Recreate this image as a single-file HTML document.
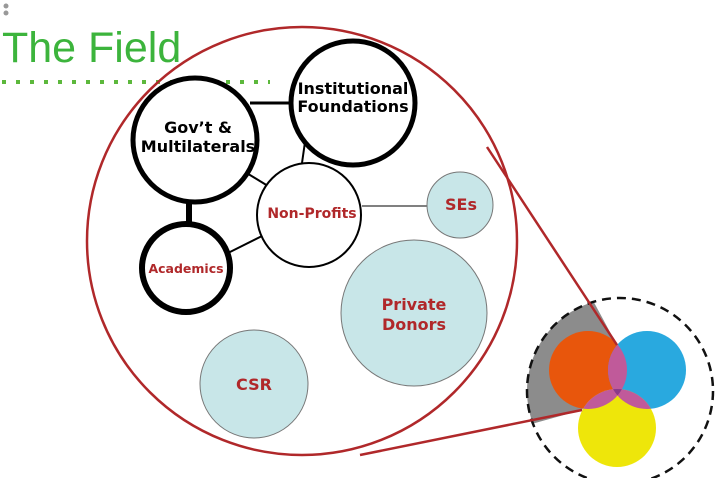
<!DOCTYPE html>
<html><head><meta charset="utf-8"><style>
body{margin:0;background:#fff;}
svg{display:block;}
text{font-family:"DejaVu Sans","Liberation Sans",sans-serif;font-weight:bold;}
</style></head><body>
<svg width="716" height="478" viewBox="0 0 716 478">
<rect width="716" height="478" fill="#fff"/>
<text x="2" y="62" style="font-family:'Liberation Sans',sans-serif;font-weight:normal" font-size="43" fill="#3cb43c">The Field</text>
<line x1="2" y1="82" x2="270" y2="82" stroke="#5cb83c" stroke-width="4" stroke-dasharray="4,10"/>
<circle cx="6" cy="6" r="2.5" fill="#999"/><circle cx="6" cy="13" r="2.5" fill="#999"/>
<defs>
<clipPath id="dc"><circle cx="620" cy="391" r="93"/></clipPath>
<clipPath id="co"><circle cx="588" cy="370" r="39"/></clipPath>
<clipPath id="cb"><circle cx="647" cy="370" r="39"/></clipPath>
</defs>
<g clip-path="url(#dc)"><path d="M617,345 L590,295 L510,300 L510,430 L582,410 Z" fill="#8c8c8c"/></g>
<circle cx="588" cy="370" r="39" fill="#e8560c"/>
<circle cx="647" cy="370" r="39" fill="#29a9df"/>
<circle cx="617" cy="428" r="39" fill="#eee60a"/>
<g clip-path="url(#co)"><circle cx="647" cy="370" r="39" fill="#c05a9a"/><circle cx="617" cy="428" r="39" fill="#c05a9a"/></g>
<g clip-path="url(#cb)"><circle cx="617" cy="428" r="39" fill="#c05a9a"/></g>
<g clip-path="url(#co)"><g clip-path="url(#cb)"><circle cx="617" cy="428" r="39" fill="#8a3a8a"/></g></g>
<circle cx="620" cy="391" r="93" fill="none" stroke="#111" stroke-width="2.5" stroke-dasharray="9,6"/>
<line x1="487" y1="147" x2="617" y2="345" stroke="#b0282a" stroke-width="2.5"/>
<line x1="360" y1="455" x2="582" y2="410" stroke="#b0282a" stroke-width="2.5"/>
<ellipse cx="302" cy="241" rx="215" ry="214" fill="none" stroke="#b0282a" stroke-width="2.5"/>
<g stroke="#000">
<line x1="250" y1="103" x2="294" y2="103" stroke-width="3"/>
<line x1="302" y1="163" x2="306" y2="135" stroke-width="2"/>
<line x1="245" y1="172" x2="268" y2="186" stroke-width="2"/>
<line x1="189" y1="200" x2="189" y2="226" stroke-width="6"/>
<line x1="228" y1="253" x2="264" y2="235" stroke-width="2"/>
<line x1="362" y1="206" x2="428" y2="206" stroke-width="1"/>
</g>
<circle cx="195" cy="140" r="62" fill="#fff" stroke="#000" stroke-width="5"/>
<circle cx="353" cy="103" r="62" fill="#fff" stroke="#000" stroke-width="5"/>
<circle cx="309" cy="215" r="52" fill="#fff" stroke="#000" stroke-width="2"/>
<circle cx="186" cy="268" r="44" fill="#fff" stroke="#000" stroke-width="6"/>
<circle cx="460" cy="205" r="33" fill="#c8e6e8" stroke="#777" stroke-width="1"/>
<circle cx="414" cy="313" r="73" fill="#c8e6e8" stroke="#777" stroke-width="1"/>
<circle cx="254" cy="384" r="54" fill="#c8e6e8" stroke="#777" stroke-width="1"/>
<g text-anchor="middle" font-size="16">
<text x="198" y="133">Gov’t &amp;</text>
<text x="198" y="152">Multilaterals</text>
<text x="353" y="94">Institutional</text>
<text x="353" y="112">Foundations</text>
<text x="312" y="218" fill="#b0282a" font-size="14">Non-Profits</text>
<text x="186" y="273" fill="#b0282a" font-size="12.5">Academics</text>
<text x="461" y="210" fill="#b0282a">SEs</text>
<text x="414" y="310" fill="#b0282a">Private</text>
<text x="414" y="330" fill="#b0282a">Donors</text>
<text x="254" y="390" fill="#b0282a">CSR</text>
</g>
</svg>
</body></html>
